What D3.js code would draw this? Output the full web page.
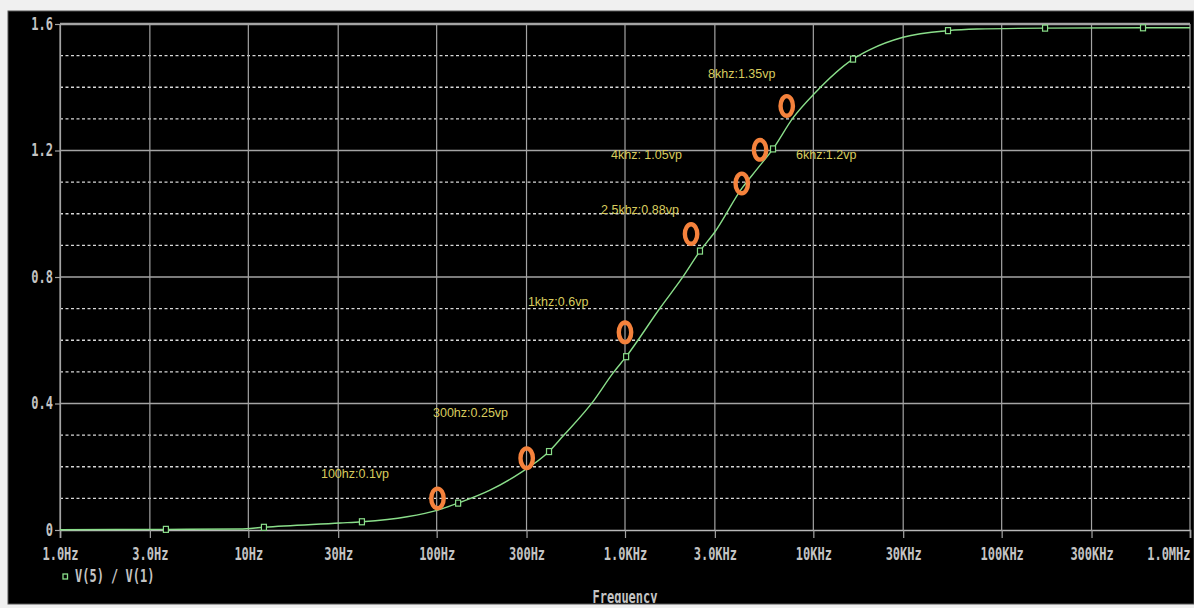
<!DOCTYPE html>
<html>
<head>
<meta charset="utf-8">
<script src="https://cdn.jsdelivr.net/npm/d3@7"></script>
<style>
  body { margin: 0; background: #f0f0f0; }
  svg { display: block; }
</style>
</head>
<body>
<div id="chart"></div>
<script>
// ---- data ----
// response curve V(5)/V(1), frequency in Hz
var curveFreq = [1, 3.65, 9, 12.1, 30.7, 40.1, 69.6, 101.6, 130, 192, 277, 395, 469, 676, 863, 1014,
                 1536, 2033, 2501, 3005, 4180, 5024, 6109, 7800, 10200, 16250, 20000, 29950, 51900, 74000, 170000, 563000, 1000000];
var curveVal  = [0.001, 0.002, 0.003, 0.0085, 0.022, 0.026, 0.042, 0.063, 0.085, 0.126, 0.18, 0.248, 0.297, 0.406, 0.496, 0.548,
                 0.702, 0.801, 0.882, 0.943, 1.081, 1.141, 1.205, 1.303, 1.382, 1.489, 1.519, 1.558, 1.579, 1.584, 1.587, 1.588, 1.588];

// small square markers on the trace
var markerFreq = [3.65, 12.1, 40.1, 130, 395, 1014, 2501, 6109, 16250, 51900, 170000, 563000];
var markerVal  = [0.002, 0.0085, 0.026, 0.085, 0.248, 0.548, 0.882, 1.205, 1.489, 1.579, 1.587, 1.588];

// orange measurement circles + their notes
var annFreq  = [101, 300.6, 1000, 2243, 4168, 5212, 7224];
var annVal   = [0.100, 0.227, 0.625, 0.936, 1.096, 1.202, 1.341];
var annText  = ["100hz:0.1vp", "300hz:0.25vp", "1khz:0.6vp", "2.5khz:0.88vp", "4khz: 1.05vp", "6khz:1.2vp", "8khz:1.35vp"];
var noteFreq = [24.3, 95.6, 305, 746, 843, 8090, 2760];
var noteVal  = [0.180, 0.370, 0.724, 1.015, 1.186, 1.186, 1.442];

// axes
var xTicks  = [1, 3, 10, 30, 100, 300, 1e3, 3e3, 1e4, 3e4, 1e5, 3e5, 1e6];
var xLabels = ["1.0Hz", "3.0Hz", "10Hz", "30Hz", "100Hz", "300Hz", "1.0KHz", "3.0KHz", "10KHz", "30KHz", "100KHz", "300KHz", "1.0MHz"];
var yTicks  = [0, 0.4, 0.8, 1.2, 1.6];
var yLabels = ["0", "0.4", "0.8", "1.2", "1.6"];
var yMinor  = [0.1, 0.2, 0.3, 0.5, 0.6, 0.7, 0.9, 1.0, 1.1, 1.3, 1.4, 1.5];

(function(){

  // ---- layout ----
  var W = 1194, H = 608;
  var plotL = 60, plotR = 1190, plotT = 24, plotB = 530;
  var monoFont = "'DejaVu Sans Mono', monospace";
  var stretch = 1.4;   // tall pixel-ish look of the axis font
  var colText = "#c4c4c4", colGrid = "#a4a4a4", colDot = "#d8d8d8";
  var colTrace = "#8ade8a", colRing = "#f5823c", colNote = "#d8cc5e";

  var svg = d3.select("#chart").append("svg")
    .attr("width", W).attr("height", H);

  svg.append("clipPath").attr("id", "panel")
    .append("rect").attr("x", 8).attr("y", 12).attr("width", W - 8).attr("height", 591);

  svg.append("rect")
    .attr("x", 8).attr("y", 11).attr("width", W - 8).attr("height", 593)
    .attr("fill", "#000").attr("stroke", "#555").attr("stroke-width", 1);

  var g = svg.append("g").attr("clip-path", "url(#panel)");

  var x = d3.scaleLog().domain([1, 1e6]).range([plotL, plotR]);
  var y = d3.scaleLinear().domain([0, 1.6]).range([plotB, plotT]);

  // dotted horizontal grid
  g.selectAll(".minor").data(yMinor).enter().append("line")
    .attr("x1", plotL).attr("x2", plotR)
    .attr("y1", function(d) { return y(d); }).attr("y2", function(d) { return y(d); })
    .attr("stroke", colDot).attr("stroke-width", 1.3).attr("stroke-dasharray", "3,2.5");

  // solid horizontal grid
  g.selectAll(".major").data(yTicks.slice(1)).enter().append("line")
    .attr("x1", plotL).attr("x2", plotR)
    .attr("y1", function(d) { return y(d); }).attr("y2", function(d) { return y(d); })
    .attr("stroke", colGrid).attr("stroke-width", function(d) { return d === 1.6 ? 2.5 : 1.6; });

  // vertical grid
  g.selectAll(".vgrid").data(xTicks).enter().append("line")
    .attr("x1", function(d) { return x(d); }).attr("x2", function(d) { return x(d); })
    .attr("y1", plotT).attr("y2", plotB)
    .attr("stroke", colGrid).attr("stroke-width", 1.2);

  // x axis
  var xAxis = g.append("g")
    .attr("transform", "translate(0," + plotB + ")")
    .call(d3.axisBottom(x).tickValues(xTicks).tickSize(8)
      .tickFormat(function(d, i) { return xLabels[i]; }));
  xAxis.select(".domain").attr("stroke", "#b8b8b8").attr("stroke-width", 1.6);
  xAxis.selectAll(".tick line").attr("stroke", colGrid).attr("stroke-width", 1.2);
  xAxis.selectAll(".tick text")
    .attr("y", 30 / stretch).attr("dy", 0)
    .attr("transform", "scale(1," + stretch + ")")
    .attr("text-anchor", function(d, i) { return i === xTicks.length - 1 ? "end" : "middle"; })
    .attr("fill", colText)
    .style("font-family", monoFont).style("font-size", "12px").style("font-weight", "bold");

  // y axis (labels drawn separately so the vertical stretch stays centred on the tick)
  var yAxis = g.append("g")
    .attr("transform", "translate(" + plotL + ",0)")
    .call(d3.axisLeft(y).tickValues(yTicks).tickSize(5).tickFormat(""));
  yAxis.select(".domain").attr("stroke", colGrid).attr("stroke-width", 1.2);
  yAxis.selectAll(".tick line").attr("stroke", colGrid).attr("stroke-width", 1.2);

  g.selectAll(".ylab").data(yTicks).enter().append("text")
    .attr("x", plotL - 7)
    .attr("y", function(d) { return (y(d) + 6) / stretch; })
    .attr("transform", "scale(1," + stretch + ")")
    .attr("text-anchor", "end")
    .attr("fill", colText)
    .style("font-family", monoFont).style("font-size", "12px").style("font-weight", "bold")
    .text(function(d, i) { return yLabels[i]; });

  // trace
  var pts = curveFreq.map(function(f, i) { return [f, curveVal[i]]; });
  g.append("path")
    .datum(pts)
    .attr("fill", "none")
    .attr("stroke", colTrace)
    .attr("stroke-width", 1.4)
    .attr("d", d3.line()
      .x(function(d) { return x(d[0]); })
      .y(function(d) { return y(d[1]); })
      .curve(d3.curveMonotoneX));

  g.selectAll(".mk").data(markerFreq).enter().append("rect")
    .attr("x", function(d) { return x(d) - 2.5; })
    .attr("y", function(d, i) { return y(markerVal[i]) - 3; })
    .attr("width", 5).attr("height", 6)
    .attr("fill", "#000").attr("stroke", colTrace).attr("stroke-width", 1.2);

  // orange rings
  g.selectAll(".ring").data(annFreq).enter().append("ellipse")
    .attr("cx", function(d) { return x(d); })
    .attr("cy", function(d, i) { return y(annVal[i]); })
    .attr("rx", 6.2).attr("ry", 9.8)
    .attr("fill", "none").attr("stroke", colRing).attr("stroke-width", 4.4);

  // notes
  g.selectAll(".note").data(annText).enter().append("text")
    .attr("x", function(d, i) { return x(noteFreq[i]); })
    .attr("y", function(d, i) { return y(noteVal[i]) + 4.5; })
    .attr("fill", colNote)
    .style("font-family", "'Liberation Sans', Arial, sans-serif")
    .style("font-size", "12.5px")
    .text(function(d) { return d; });

  // legend
  g.append("rect")
    .attr("x", 63).attr("y", 574).attr("width", 4.5).attr("height", 5)
    .attr("fill", "#000").attr("stroke", colTrace).attr("stroke-width", 1.3);
  g.append("text")
    .attr("x", 75).attr("y", 582 / stretch)
    .attr("transform", "scale(1," + stretch + ")")
    .attr("fill", colText)
    .style("font-family", monoFont).style("font-size", "12px").style("font-weight", "bold")
    .text("V(5) / V(1)");

  // axis title (cut by the panel edge as in the screenshot)
  g.append("text")
    .attr("x", x(1e3)).attr("y", 603 / stretch)
    .attr("transform", "scale(1," + stretch + ")")
    .attr("text-anchor", "middle")
    .attr("fill", colText)
    .style("font-family", monoFont).style("font-size", "12px").style("font-weight", "bold")
    .text("Frequency");

})();
</script>
</body>
</html>
